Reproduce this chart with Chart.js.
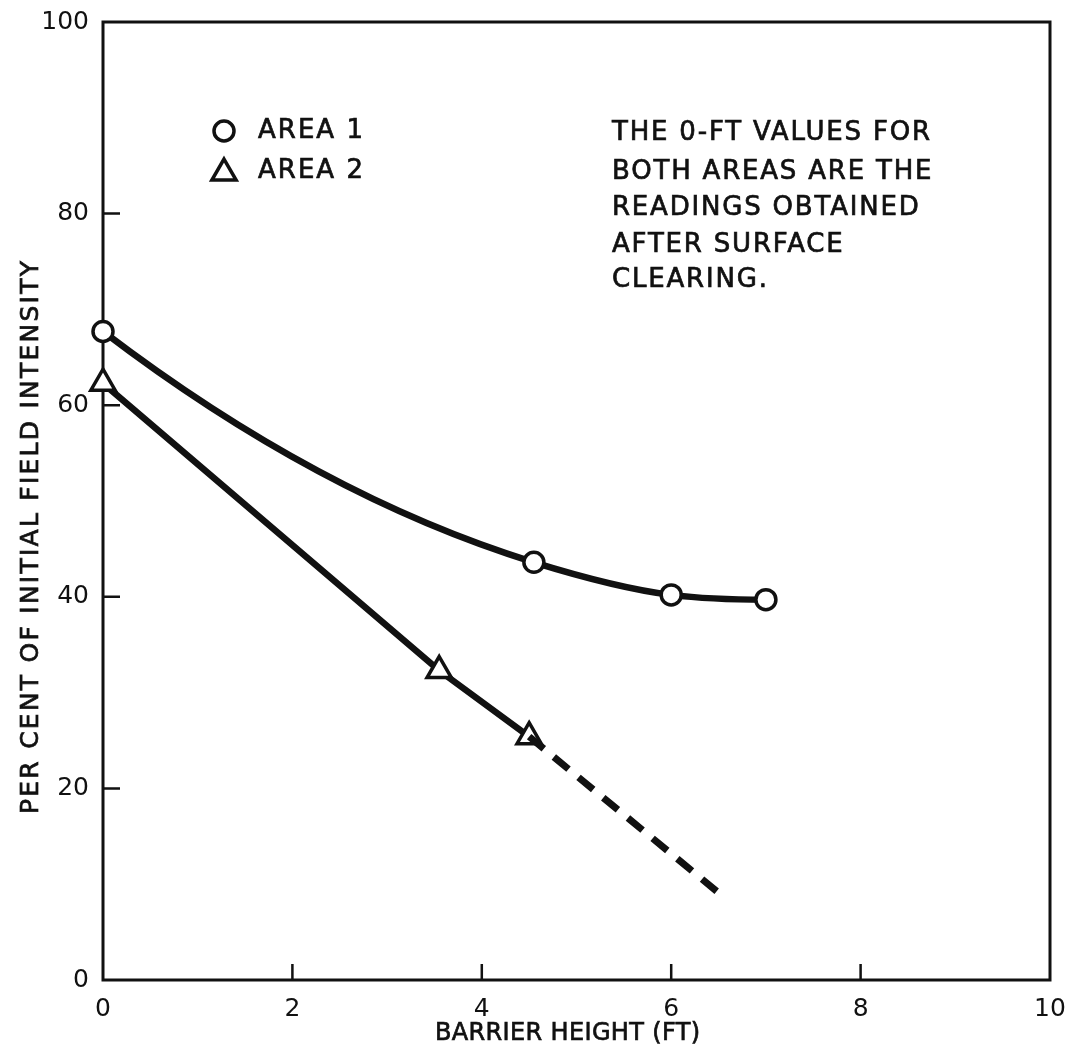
<!DOCTYPE html>
<html>
<head>
<meta charset="utf-8">
<script src="https://cdn.jsdelivr.net/npm/chart.js@4/dist/chart.umd.min.js"></script>
<style>
  html, body { margin: 0; padding: 0; background: #fff; }
</style>
</head>
<body>
<canvas id="chart" width="1071" height="1049"></canvas>
<script>
"use strict";

// ---- Data ----
const area1X = [0, 4.55, 6, 7];
const area1Y = [67.7, 43.6, 40.2, 39.7];
const area2X = [0, 3.55, 4.5];
const area2Y = [62.3, 32.3, 25.4];
const extrapX = [4.5, 6.55];          // dashed extension of area 2
const extrapY = [25.4, 8.7];
const xTicks = [0, 2, 4, 6, 8, 10];
const yTicks = [0, 20, 40, 60, 80, 100];
const legendLabels = ["AREA 1", "AREA 2"];
const noteLines = [
  "THE 0-FT VALUES FOR",
  "BOTH AREAS ARE THE",
  "READINGS OBTAINED",
  "AFTER SURFACE",
  "CLEARING.",
];
const xTitle = "BARRIER HEIGHT (FT)";
const yTitle = "PER CENT OF INITIAL FIELD INTENSITY";

const INK = "#111";
const FONT = "'DejaVu Sans', 'Liberation Sans', sans-serif";

const toPoints = (xs, ys) => xs.map((x, i) => ({ x, y: ys[i] }));

// text with a bit of extra ink, stretched to a width by letter spacing
function inkText(ctx, text, x, y, spacing) {
  ctx.letterSpacing = spacing + "px";
  ctx.fillText(text, x, y);
  ctx.strokeText(text, x, y);
  ctx.letterSpacing = "0px";
}
function spacingFor(ctx, text, width) {
  ctx.letterSpacing = "0px";
  return (width - ctx.measureText(text).width) / Math.max(1, text.length - 1);
}

// ---- Smooth curve: Hermite segments with parabolic (Bessel) tangents ----
// Uses the pixel positions the library computed for the data points.
const besselCurve = {
  id: "bessel",
  beforeDatasetDraw(chart, args) {
    if (args.index !== 1) return;
    const pts = args.meta.data;
    const n = pts.length;
    if (n < 3) return;
    const h = [], s = [];
    for (let i = 0; i < n - 1; i++) {
      h.push(pts[i + 1].x - pts[i].x);
      s.push((pts[i + 1].y - pts[i].y) / h[i]);
    }
    const m = new Array(n);
    for (let i = 1; i < n - 1; i++) {
      m[i] = (h[i] * s[i - 1] + h[i - 1] * s[i]) / (h[i - 1] + h[i]);
    }
    m[0] = s[0] + (s[0] - s[1]) * h[0] / (h[0] + h[1]);
    m[n - 1] = s[n - 2] + (s[n - 2] - s[n - 3]) * h[n - 2] / (h[n - 2] + h[n - 3]);
    if (m[0] * s[0] < 0) m[0] = 0;
    if (m[n - 1] * s[n - 2] < 0) m[n - 1] = 0;
    for (let i = 0; i < n; i++) {
      const p = pts[i];
      const hp = i > 0 ? h[i - 1] / 3 : 0;
      const hn = i < n - 1 ? h[i] / 3 : 0;
      p.cp1x = p.x - hp; p.cp1y = p.y - m[i] * hp;
      p.cp2x = p.x + hn; p.cp2y = p.y + m[i] * hn;
    }
    args.meta.dataset._pointsUpdated = true;
  },
};

// ---- Frame, inward ticks ----
const framePlugin = {
  id: "frame",
  beforeDatasetsDraw(chart) {
    const { ctx, chartArea: a, scales } = chart;
    ctx.save();
    ctx.strokeStyle = INK;
    ctx.lineWidth = 3;
    ctx.strokeRect(a.left, a.top, a.right - a.left, a.bottom - a.top);
    ctx.lineWidth = 2.5;
    ctx.beginPath();
    for (const v of xTicks.slice(1, -1)) {
      const px = scales.x.getPixelForValue(v);
      ctx.moveTo(px, a.bottom);
      ctx.lineTo(px, a.bottom - 16);
    }
    for (const v of yTicks.slice(1, -1)) {
      const py = scales.y.getPixelForValue(v);
      ctx.moveTo(a.left, py);
      ctx.lineTo(a.left + 17, py);
    }
    ctx.stroke();
    ctx.restore();
  },
};

// ---- Axis titles, legend, note ----
const textPlugin = {
  id: "texts",
  afterDraw(chart) {
    const { ctx } = chart;
    ctx.save();
    ctx.fillStyle = INK;
    ctx.strokeStyle = INK;
    ctx.lineWidth = 0.7;
    ctx.textBaseline = "middle";
    ctx.textAlign = "left";

    // y title
    ctx.font = `25px ${FONT}`;
    ctx.save();
    ctx.translate(31, 538);
    ctx.rotate(-Math.PI / 2);
    inkText(ctx, yTitle, -276, 0, spacingFor(ctx, yTitle, 553));
    ctx.restore();

    // x title
    ctx.font = `24px ${FONT}`;
    inkText(ctx, xTitle, 435, 1034, spacingFor(ctx, xTitle, 265));

    // legend
    const styles = [
      { pointStyle: "circle", radius: 10 },
      { pointStyle: "triangle", radius: 14 },
    ];
    const legendY = [131, 171];
    ctx.lineWidth = 3.5;
    styles.forEach((st, i) => {
      ctx.fillStyle = "#fff";
      Chart.helpers.drawPoint(ctx, { pointStyle: st.pointStyle, radius: st.radius, rotation: 0, borderWidth: 3.5 }, 224, legendY[i] + (i ? 2 : 0));
    });
    ctx.fillStyle = INK;
    ctx.lineWidth = 0.7;
    ctx.font = `26px ${FONT}`;
    const legSp = spacingFor(ctx, legendLabels[1], 105);
    legendLabels.forEach((t, i) => inkText(ctx, t, 258, legendY[i], legSp));

    // note
    ctx.font = `26px ${FONT}`;
    const noteY = [133, 172, 208, 245, 280];
    const sp = spacingFor(ctx, noteLines[0], 318);
    noteLines.forEach((line, i) => inkText(ctx, line, 612, noteY[i], sp));

    ctx.restore();
  },
};

new Chart(document.getElementById("chart"), {
  type: "scatter",
  data: {
    datasets: [
      {
        label: "extrapolation",
        data: toPoints(extrapX, extrapY),
        showLine: true,
        borderColor: INK,
        borderWidth: 7,
        borderDash: [19, 13],
        pointRadius: 0,
        clip: false,
      },
      {
        label: legendLabels[0],
        data: toPoints(area1X, area1Y),
        showLine: true,
        cubicInterpolationMode: "monotone",
        borderColor: INK,
        borderWidth: 6.5,
        pointStyle: "circle",
        pointRadius: 10,
        pointBorderWidth: 3.5,
        pointBackgroundColor: "#fff",
        pointBorderColor: INK,
        clip: false,
      },
      {
        label: legendLabels[1],
        data: toPoints(area2X, area2Y),
        showLine: true,
        tension: 0,
        borderColor: INK,
        borderWidth: 6.5,
        pointStyle: "triangle",
        pointRadius: 14,
        pointBorderWidth: 3.5,
        pointBackgroundColor: "#fff",
        pointBorderColor: INK,
        clip: false,
      },
    ],
  },
  options: {
    responsive: false,
    animation: false,
    layout: { padding: { left: 0, top: 22, right: 21, bottom: 0 } },
    plugins: { legend: { display: false }, tooltip: { enabled: false } },
    scales: {
      x: {
        type: "linear",
        min: 0,
        max: 10,
        afterBuildTicks: (s) => { s.ticks = xTicks.map((v) => ({ value: v })); },
        afterFit: (s) => { s.height = 69; s.paddingLeft = 0; s.paddingRight = 0; },
        grid: { display: false, drawTicks: false },
        border: { display: false },
        ticks: { color: INK, padding: 14, font: { family: FONT, size: 25 } },
      },
      y: {
        type: "linear",
        min: 0,
        max: 100,
        afterBuildTicks: (s) => { s.ticks = yTicks.map((v) => ({ value: v })); },
        afterFit: (s) => { s.width = 103; s.paddingTop = 0; s.paddingBottom = 0; },
        grid: { display: false, drawTicks: false },
        border: { display: false },
        ticks: { color: INK, padding: 14, font: { family: FONT, size: 25 } },
      },
    },
  },
  plugins: [framePlugin, besselCurve, textPlugin],
});
</script>
</body>
</html>
